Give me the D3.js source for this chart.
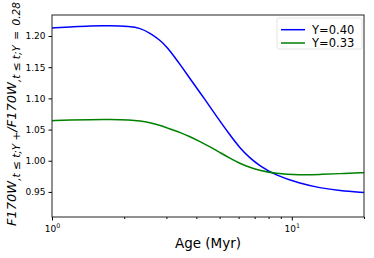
<!DOCTYPE html>
<html>
<head>
<meta charset="utf-8">
<script src="https://cdn.jsdelivr.net/npm/d3@7"></script>
<style>
  body { margin: 0; background: #fff; }
  text { font-family: "DejaVu Sans", sans-serif; }
</style>
</head>
<body>
<div id="container"></div>
<script>
/* CONSTANTS AND GLOBALS */
const width = 374;
const height = 258;
const margin = {top: 15, bottom: 41, left: 52, right: 10};

/* DATA */
const ages = [1, 1.19, 1.44, 1.75, 2.11, 2.33, 2.56, 2.82, 3.01, 3.26, 3.42, 3.76, 4.14, 4.69, 5.01, 5.52, 6.07, 6.68, 7.36, 8.5, 10.8, 13.1, 15.8, 20];
const ratioY040 = [1.2128, 1.2144, 1.2165, 1.2168, 1.2152, 1.2128, 1.2048, 1.1936, 1.1824, 1.1655, 1.1543, 1.1319, 1.1095, 1.0798, 1.0638, 1.0413, 1.0205, 1.0045, 0.9917, 0.9772, 0.9636, 0.9564, 0.9521, 0.9489];
const ratioY033 = [1.0643, 1.0652, 1.0660, 1.0662, 1.0654, 1.0638, 1.0611, 1.0569, 1.0529, 1.0481, 1.0452, 1.0388, 1.0309, 1.0197, 1.0133, 1.0040, 0.9957, 0.9893, 0.9845, 0.9796, 0.9772, 0.9780, 0.9793, 0.9809];
const seriesNames = ["Y=0.40", "Y=0.33"];
const seriesColors = ["#0000ff", "#008000"];
const yTicks = [0.95, 1.00, 1.05, 1.10, 1.15, 1.20];
const xMajor = [1, 10];
const xMinor = [2, 3, 4, 5, 6, 7, 8, 9, 20];

const series = [ratioY040, ratioY033].map((vals, i) => ({
  name: seriesNames[i],
  color: seriesColors[i],
  values: ages.map((a, j) => ({age: a, v: vals[j]}))
}));

/* SCALES */
const xScale = d3.scaleLog()
  .domain([1, 20])
  .range([margin.left, width - margin.right]);

const yScale = d3.scaleLinear()
  .domain([0.9098, 1.2337])
  .range([height - margin.bottom, margin.top]);

/* SVG */
const svg = d3.select("#container")
  .append("svg")
  .attr("width", width)
  .attr("height", height);

// lines
const line = d3.line()
  .x(d => xScale(d.age))
  .y(d => yScale(d.v))
  .curve(d3.curveBasis);

svg.append("g")
  .selectAll("path")
  .data(series)
  .join("path")
  .attr("d", d => line(d.values))
  .attr("fill", "none")
  .attr("stroke", d => d.color)
  .attr("stroke-width", 1.5);

// y axis
const yAxis = d3.axisLeft(yScale)
  .tickValues(yTicks)
  .tickFormat(d3.format(".2f"))
  .tickSize(3.5)
  .tickPadding(3);
const gy = svg.append("g")
  .attr("transform", `translate(${margin.left},0)`)
  .call(yAxis);
gy.select(".domain").remove();
gy.selectAll("text").attr("font-size", 9).attr("fill", "#000");

// x axis - major
const gx = svg.append("g")
  .attr("transform", `translate(0,${height - margin.bottom})`)
  .call(d3.axisBottom(xScale).tickValues(xMajor).tickSize(3.5).tickFormat(""));
gx.select(".domain").remove();

gx.selectAll(".tick")
  .append("text")
  .attr("y", 15)
  .attr("text-anchor", "middle")
  .attr("font-size", 9)
  .attr("fill", "#000")
  .each(function(d) {
    const t = d3.select(this);
    t.append("tspan").text("10");
    t.append("tspan").attr("dy", -4).attr("font-size", 6.3).text(Math.round(Math.log10(d)));
  });

// x axis - minor
const gxm = svg.append("g")
  .attr("transform", `translate(0,${height - margin.bottom})`)
  .call(d3.axisBottom(xScale).tickValues(xMinor).tickSize(2).tickFormat(""));
gxm.select(".domain").remove();

// frame
svg.append("rect")
  .attr("x", margin.left)
  .attr("y", margin.top)
  .attr("width", width - margin.left - margin.right)
  .attr("height", height - margin.top - margin.bottom)
  .attr("fill", "none")
  .attr("stroke", "#222")
  .attr("stroke-width", 1);

// x label
svg.append("text")
  .attr("x", (margin.left + width - margin.right) / 2)
  .attr("y", 248)
  .attr("text-anchor", "middle")
  .attr("font-size", 13.5)
  .text("Age (Myr)");

// y label
const ylab = svg.append("text")
  .attr("transform", `translate(16,${(margin.top + height - margin.bottom) / 2 - 2}) rotate(-90)`)
  .attr("text-anchor", "middle")
  .attr("font-style", "italic")
  .attr("font-size", 13);
ylab.append("tspan").text("F170W");
ylab.append("tspan").attr("dy", 3.5).attr("font-size", 10.5).text(",t \u2264 t;Y +");
ylab.append("tspan").attr("dy", -3.5).text("/F170W");
ylab.append("tspan").attr("dy", 3.5).attr("font-size", 10.5).text(",t \u2264 t;Y \u2009=\u2009 0.28");

// legend
const legend = svg.append("g");
legend.append("rect")
  .attr("x", 277)
  .attr("y", 18)
  .attr("width", 85)
  .attr("height", 31)
  .attr("rx", 2)
  .attr("fill", "#fff")
  .attr("stroke", "#ddd")
  .attr("stroke-width", 0.8);

const rows = legend.selectAll("g.row")
  .data(series)
  .join("g")
  .attr("class", "row")
  .attr("transform", (d, i) => `translate(281,${29.7 + i * 13.3})`);
rows.append("line")
  .attr("x1", 0).attr("x2", 24)
  .attr("stroke", d => d.color)
  .attr("stroke-width", 1.5);
rows.append("text")
  .attr("x", 31)
  .attr("y", 4)
  .attr("font-size", 11.5)
  .text(d => d.name);
</script>
</body>
</html>
